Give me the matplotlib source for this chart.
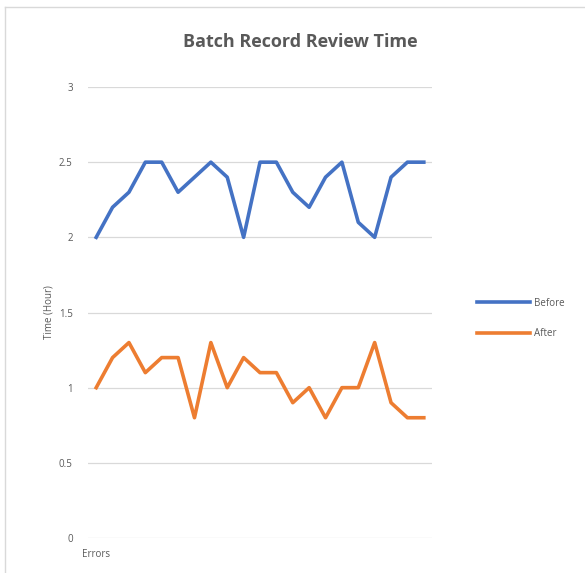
import matplotlib
matplotlib.use("Agg")
import matplotlib.pyplot as plt
from matplotlib.lines import Line2D

plt.rcParams['font.family'] = ['Open Sans', 'DejaVu Sans']

# data
categories = ["Errors"] + [""] * 20
before = [2.0, 2.2, 2.3, 2.5, 2.5, 2.3, 2.4, 2.5, 2.4, 2.0, 2.5,
          2.5, 2.3, 2.2, 2.4, 2.5, 2.1, 2.0, 2.4, 2.5, 2.5]
after = [1.0, 1.2, 1.3, 1.1, 1.2, 1.2, 0.8, 1.3, 1.0, 1.2, 1.1,
         1.1, 0.9, 1.0, 0.8, 1.0, 1.0, 1.3, 0.9, 0.8, 0.8]
yticks = [0, 0.5, 1, 1.5, 2, 2.5, 3]

gray = '#595959'
grid = '#d9d9d9'

fig = plt.figure(figsize=(5.85, 5.73), dpi=100)
ax = fig.add_axes([88/585, 1-538/573, 344/585, 451/573])

x = list(range(len(categories)))
ax.plot(x, before, color='#4472C4', lw=2.6, label='Before', solid_joinstyle='round')
ax.plot(x, after, color='#ED7D31', lw=2.6, label='After', solid_joinstyle='round')

ax.set_xlim(-0.5, len(categories) - 0.5)
ax.set_ylim(0, 3)
ax.set_yticks(yticks)
ax.set_yticklabels([f'{v:g}' for v in yticks])
ax.set_xticks(x)
ax.set_xticklabels(categories)
ax.tick_params(axis='both', length=0, labelsize=7, colors=gray)
ax.tick_params(axis='y', pad=11)
ax.tick_params(axis='x', pad=8)
ax.grid(axis='y', color=grid, lw=0.9)
ax.set_axisbelow(True)
for s in ax.spines.values():
    s.set_visible(False)

ax.set_ylabel('Time (Hour)', fontsize=7, color=gray, labelpad=3)

fig.text(300/585, 1-42/573, 'Batch Record Review Time', ha='center', va='center',
         fontsize=13, fontweight='bold', color=gray)

fig.legend(loc='center left', bbox_to_anchor=(477/585, 1-318.5/573), frameon=False,
           fontsize=7, handlelength=5.4, handletextpad=0.5, labelspacing=2.05,
           borderpad=0, borderaxespad=0, labelcolor=gray)

# chart border (left and top edges visible)
fig.add_artist(Line2D([5/585, 5/585], [0, 1-7/573], color=grid, lw=1))
fig.add_artist(Line2D([5/585, 1], [1-7/573, 1-7/573], color=grid, lw=1))

fig.savefig('out.png', dpi=100)
